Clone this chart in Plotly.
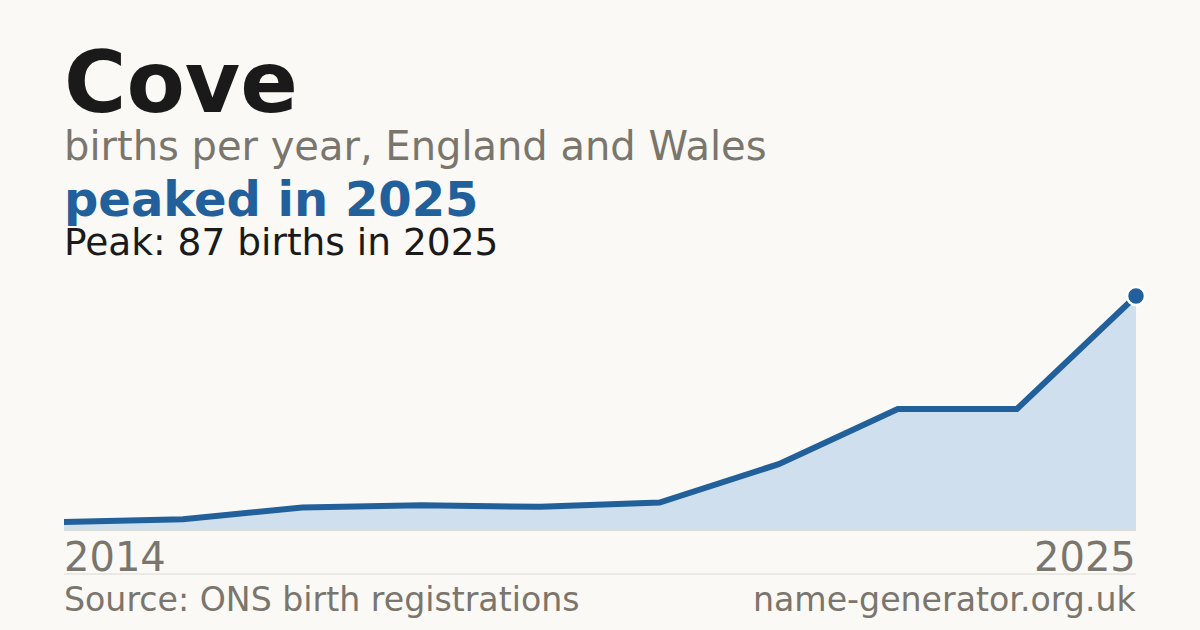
import plotly.graph_objects as go

# ---- data ----
name = "Cove"
first_year = "2014"
last_year = "2025"
births = [3, 4, 8.4, 9.2, 8.6, 10.2, 24.5, 45, 45, 87]
peak_value = 87
peak_year = "2025"

W, H = 1200, 630
BG = "#faf9f5"
BLUE = "#21609a"
FILL = "#cfdfee"
GREY = "#7a756d"
DARK = "#1a1a1a"
FONT = "DejaVu Sans"

def py(p):
    return 1 - p / H

def px(p):
    return p / W

x = list(range(len(births)))

fig = go.Figure()
fig.add_trace(go.Scatter(
    x=x, y=births, mode="lines",
    line=dict(color=BLUE, width=6),
    fill="tozeroy", fillcolor=FILL,
    hoverinfo="skip",
))
fig.add_trace(go.Scatter(
    x=[x[-1]], y=[births[-1]], mode="markers",
    marker=dict(color=BLUE, size=18, line=dict(color="white", width=2.5)),
    hoverinfo="skip", cliponaxis=False,
))

L, R = 64, 1136
annotations = [
    dict(text=f"<b>{name}</b>", x=px(L), y=py(83), xanchor="left", yanchor="middle",
         font=dict(size=85, color=DARK, family=FONT)),
    dict(text="births per year, England and Wales", x=px(L), y=py(146), xanchor="left",
         yanchor="middle", font=dict(size=40, color=GREY, family=FONT)),
    dict(text=f"<b>peaked in {peak_year}</b>", x=px(L), y=py(198.5), xanchor="left",
         yanchor="middle", font=dict(size=48, color=BLUE, family=FONT)),
    dict(text=f"Peak: {peak_value} births in {peak_year}", x=px(L), y=py(242.5), xanchor="left",
         yanchor="middle", font=dict(size=37.5, color=DARK, family=FONT)),
    dict(text=first_year, x=px(L), y=py(557), xanchor="left", yanchor="middle",
         font=dict(size=40, color=GREY, family=FONT)),
    dict(text=last_year, x=px(R), y=py(557), xanchor="right", yanchor="middle",
         font=dict(size=40, color=GREY, family=FONT)),
    dict(text="Source: ONS birth registrations", x=px(L), y=py(599), xanchor="left",
         yanchor="middle", font=dict(size=33.2, color=GREY, family=FONT)),
    dict(text="name-generator.org.uk", x=px(R), y=py(599), xanchor="right",
         yanchor="middle", font=dict(size=33.2, color=GREY, family=FONT)),
]
for a in annotations:
    a.update(xref="paper", yref="paper", showarrow=False, borderpad=0, borderwidth=0)

fig.update_layout(
    width=W, height=H,
    margin=dict(l=0, r=0, t=0, b=0),
    paper_bgcolor=BG, plot_bgcolor=BG,
    showlegend=False,
    annotations=annotations,
    xaxis=dict(domain=[px(64), px(1136)], range=[0, len(births) - 1],
               showgrid=False, zeroline=False, showticklabels=False,
               showline=True, linecolor="#dcdad3", linewidth=1, fixedrange=True),
    yaxis=dict(domain=[py(530), py(296)], range=[0, peak_value],
               showgrid=False, zeroline=False, showticklabels=False, fixedrange=True),
    shapes=[dict(type="line", xref="paper", yref="paper",
                 x0=px(64), x1=px(1136), y0=py(574), y1=py(574),
                 line=dict(color="#dcdad3", width=1))],
)

fig.write_html(
    "out.html",
    config={"displayModeBar": False, "staticPlot": True},
    post_script="document.body.style.margin='0';document.body.style.background='%s';" % BG,
)
